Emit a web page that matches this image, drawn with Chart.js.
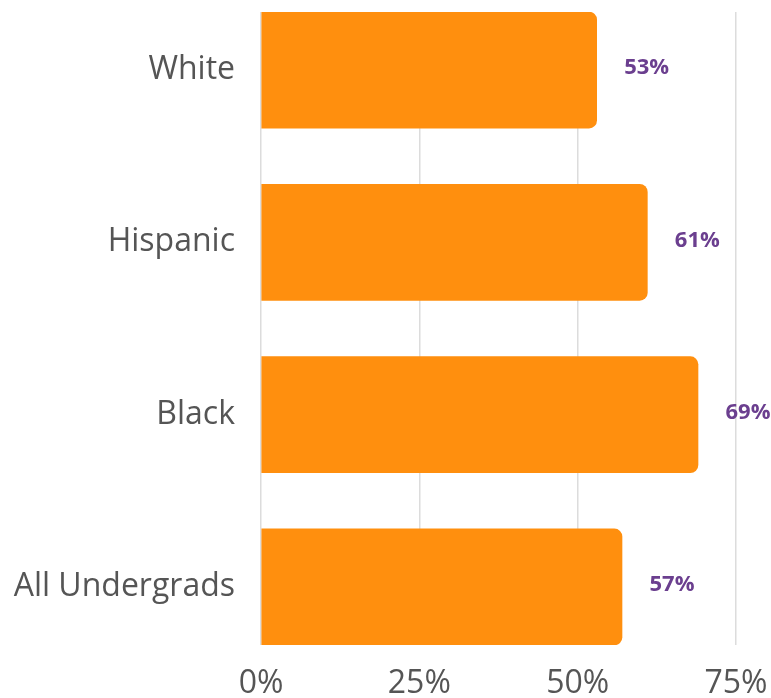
<!DOCTYPE html>
<html>
<head>
<meta charset="utf-8">
<script src="https://cdn.jsdelivr.net/npm/chart.js@4.4.0/dist/chart.umd.min.js"></script>
<style>
  html, body { margin: 0; padding: 0; background: #ffffff; }
  #wrap { width: 771px; height: 698px; position: relative; }
</style>
</head>
<body>
<div id="wrap"><canvas id="c" width="771" height="698"></canvas></div>
<script>
const categories = ["White", "Hispanic", "Black", "All Undergrads"];
const values = [53, 61, 69, 57];
const xTicks = [0, 25, 50, 75];

const FONT = "'Open Sans', 'Noto Sans', sans-serif";

const labelPlugin = {
  id: 'valueLabels',
  afterDatasetsDraw(chart) {
    const ctx = chart.ctx;
    const meta = chart.getDatasetMeta(0);
    ctx.save();
    ctx.font = "bold 22px " + FONT;
    ctx.fillStyle = '#6b3f8f';
    ctx.textAlign = 'center';
    ctx.textBaseline = 'middle';
    meta.data.forEach((el, i) => {
      ctx.fillText(values[i] + '%', el.x + 50, el.y - 2);
    });
    ctx.restore();
  }
};

new Chart(document.getElementById('c'), {
  type: 'bar',
  data: {
    datasets: [{
      data: values.map((v, i) => ({ x: v, y: i })),
      backgroundColor: '#ff8f0e',
      borderRadius: 8,
      borderSkipped: 'start',
      barThickness: 116
    }]
  },
  options: {
    indexAxis: 'y',
    responsive: false,
    animation: false,
    layout: { autoPadding: false, padding: { top: 12, right: 35, left: 0, bottom: 0 } },
    plugins: { legend: { display: false }, tooltip: { enabled: false } },
    scales: {
      x: {
        type: 'linear',
        min: 0,
        max: 75,
        bounds: 'data',
        offset: false,
        afterBuildTicks: s => { s.ticks = xTicks.map(v => ({ value: v })); },
        afterFit: s => { s.height = 53; s.paddingLeft = 0; s.paddingRight = 0; },
        grid: { color: '#dcdcdc', lineWidth: 1.5, drawTicks: false },
        border: { display: false },
        ticks: {
          color: '#555555',
          font: { family: FONT, size: 32 },
          padding: 20,
          callback: v => v + '%'
        }
      },
      y: {
        type: 'linear',
        reverse: true,
        min: -0.337,
        max: 3.337,
        bounds: 'data',
        offset: false,
        afterBuildTicks: s => { s.ticks = categories.map((c, i) => ({ value: i })); },
        afterFit: s => { s.width = 261; s.paddingTop = 0; s.paddingBottom = 0; },
        grid: { display: false, drawTicks: false, offset: false },
        border: { display: false },
        ticks: {
          color: '#555555',
          font: { family: FONT, size: 32 },
          padding: 26,
          callback: v => categories[v]
        }
      }
    }
  },
  plugins: [labelPlugin]
});
</script>
</body>
</html>
